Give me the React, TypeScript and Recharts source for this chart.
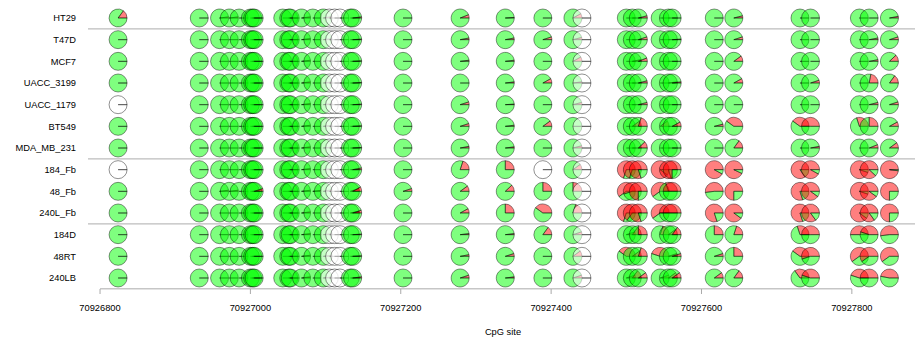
import React from 'react';
import { ScatterChart, Scatter, XAxis, YAxis, ReferenceLine } from 'recharts';

const samples = ['HT29','T47D','MCF7','UACC_3199','UACC_1179','BT549','MDA_MB_231','184_Fb','48_Fb','240L_Fb','184D','48RT','240LB'];

const sites = [
  70926824,
  70926932,70926959,70926972,70926985,70927000,70927003,70927005,
  70927043,70927051,70927053,70927068,70927083,70927097,70927105,70927112,70927119,70927133,70927136,
  70927203,70927279,70927339,70927389,70927429,70927441,
  70927500,70927508,70927516,70927545,70927556,70927561,
  70927617,70927643,
  70927731,70927745,
  70927810,70927823,70927850,
];

const xTicks = [70926800,70927000,70927200,70927400,70927600,70927800];
const separators = [0.5, 6.5, 9.5];

// methylated fraction per CpG site (null = no coverage)
const HT29 = [0.15, 0,0.02,0.02,0,0,0,0, 0,0,0,0.02,0,0.03,null,null,null,0,0.02, 0,0.06,0.01,0,0.08,null, 0,0,0.04,0,0,0, 0,0.04, 0,0, 0,0,0.03];
const T47D = [0, 0,0,0,0,0,0,0, 0,0,0,0.02,0,0.02,null,null,null,0,0.01, 0,0.03,0.03,0.05,0.04,null, 0,0,0.05,0,0,0.01, 0,0.05, 0,0, 0,0.03,0.05];
const MCF7 = [0, 0,0,0,0,0,0,0, 0,0,0,0.02,0,0.02,null,null,null,0,0.01, 0,0.02,0.02,0,0.08,null, 0,0.03,0.06,0,0,0, 0,0.1, 0,0, 0,0.03,0.12];
const UACC_3199 = [0, 0,0,0,0,0,0,0, 0,0,0,0.02,0,0.02,null,null,null,0,0.01, 0,0,0.02,0.08,0.02,null, 0,0,0.04,0,0.02,0.02, 0,0.08, 0,0.05, 0,0.22,0.15];
const UACC_1179 = [null, 0,0,0,0,0,0,0, 0,0,0,0.02,0,0.02,null,null,null,0,0.01, 0,0.05,0.01,0,0.04,null, 0,0,0.04,0,0,0, 0,0, 0,0, 0,0.04,0.05];
const BT549 = [0, 0,0,0,0,0,0,0, 0,0,0,0.02,0,0.02,null,null,null,0,0.01, 0,0.05,0.02,0.1,0,null, 0,0.1,0.2,0.1,0,0.08, 0.04,0.4, 0.4,0.5, 0.3,0.25,0.08];
const MDA_MB_231 = [0, 0,0,0,0,0,0,0, 0,0,0,0.02,0,0.02,null,null,null,0,0.01, 0,0.03,0.02,0,0.04,null, 0,0,0.12,0,0,0, 0,0.15, 0,0.03, 0,0.06,0.1];
const Fb184 = [null, 0,0,0,0,0,0,0, 0,0,0,0.02,0,0.02,null,null,null,0,0.03, 0,0.2,0.25,null,0.1,null, 0.7,0.7,0.8,0.9,0.8,0.75, 0.92,0.93, 0.85,0.92, 0.95,0.88,0.98];
const Fb48 = [0, 0,0.02,0.02,0,0,0,0.05, 0,0,0,0.02,0.02,0.03,null,null,null,0.05,0.08, 0.05,0.1,0.12,0.25,0.25,null, 0.6,0.55,0.75,0.6,0.3,0.5, 0.52,0.75, 0.8,0.9, 0.95,0.9,0.75];
const Fb240L = [0, 0,0,0,0,0,0,0, 0,0,0,0.02,0,0.02,null,null,null,0.03,0.05, 0,0.08,0.25,0.4,0.2,null, 0.7,0.65,0.8,0.6,0.5,0.5, 0.8,0.9, 0.8,0.85, 0.9,0.85,0.75];
const D184 = [0, 0,0,0,0,0,0,0, 0,0,0,0.02,0,0.02,null,null,null,0,0.01, 0,0.02,0.02,0.15,0.05,null, 0.05,0.15,0.25,0.2,0.1,0.15, 0.25,0.2, 0.3,0.5, 0.5,0.45,0.52];
const RT48 = [0, 0,0,0,0,0,0,0, 0,0,0,0.02,0,0.02,null,null,null,0,0.01, 0,0.03,0.05,0,0.1,null, 0.4,0.1,0.2,0.45,0.05,0.05, 0.05,0.25, 0.4,0.55, 0.6,0.6,0.6];
const LB240 = [0, 0,0,0,0,0,0,0, 0,0,0,0.02,0,0.02,null,null,null,0,0.02, 0,0.05,0.02,0,0.05,null, 0.05,0.15,0.1,0.05,0.1,0.1, 0.1,0.15, 0.35,0.45, 0.45,0.5,0.47];

const rows = [HT29,T47D,MCF7,UACC_3199,UACC_1179,BT549,MDA_MB_231,Fb184,Fb48,Fb240L,D184,RT48,LB240];

const data: { x: number; y: number; m: number | null }[] = [];
rows.forEach((vals, ri) => {
  vals.forEach((m, si) => data.push({ x: sites[si], y: ri, m }));
});

const FONT = '"Liberation Sans", Arial, sans-serif';
const R = 9;
const STROKE = 'rgba(0,0,0,0.62)';
const SW = 0.7;

const pt = (cx: number, cy: number, a: number) => [cx + R * Math.cos(a), cy - R * Math.sin(a)];

const slicePath = (cx: number, cy: number, a0: number, a1: number) => {
  const [x0, y0] = pt(cx, cy, a0);
  const [x1, y1] = pt(cx, cy, a1);
  const large = a1 - a0 > Math.PI ? 1 : 0;
  return `M${cx},${cy}L${x0},${y0}A${R},${R} 0 ${large} 0 ${x1},${y1}Z`;
};

const fullPath = (cx: number, cy: number) =>
  `M${cx},${cy}L${cx + R},${cy}A${R},${R} 0 1 0 ${cx - R},${cy}A${R},${R} 0 1 0 ${cx + R},${cy}Z`;

const PieShape = (props: any) => {
  const { cx, cy, payload } = props;
  if (cx == null || cy == null) return null;
  const m = payload.m;
  if (m === null || m === undefined) {
    return <path d={fullPath(cx, cy)} fill="#ffffff" fillOpacity={0.55} stroke={STROKE} strokeWidth={SW} />;
  }
  if (m <= 0) {
    return <path d={fullPath(cx, cy)} fill="#00ff00" fillOpacity={0.5} stroke={STROKE} strokeWidth={SW} />;
  }
  if (m >= 1) {
    return <path d={fullPath(cx, cy)} fill="#ff0000" fillOpacity={0.5} stroke={STROKE} strokeWidth={SW} />;
  }
  const a = m * 2 * Math.PI;
  return (
    <g>
      <path d={slicePath(cx, cy, 0, a)} fill="#ff0000" fillOpacity={0.5} stroke={STROKE} strokeWidth={SW} />
      <path d={slicePath(cx, cy, a, 2 * Math.PI)} fill="#00ff00" fillOpacity={0.5} stroke={STROKE} strokeWidth={SW} />
    </g>
  );
};

const XTick = (p: any) => (
  <g>
    <line x1={p.x} x2={p.x} y1={289} y2={294} stroke="#aaaaaa" strokeWidth={1} />
    <text x={p.x} y={310.5} textAnchor="middle" fontSize={9.3} fontFamily={FONT} fill="#000">{p.payload.value}</text>
  </g>
);

const YTick = (p: any) => (
  <text x={76} y={p.y + 3.3} textAnchor="end" fontSize={9.3} fontFamily={FONT} fill="#000">
    {samples[p.payload.value]}
  </text>
);

export default function App() {
  return (
    <div style={{ position: 'absolute', left: 0, top: 0, width: 915, height: 337, background: '#fff' }}>
      <ScatterChart width={915} height={337} margin={{ top: 7.17, right: 3, left: 0, bottom: 0 }}>
        <XAxis
          type="number"
          dataKey="x"
          domain={[70926780, 70927880]}
          ticks={xTicks}
          axisLine={false}
          tickLine={false}
          tick={<XTick />}
          height={48.17}
          interval={0}
          label={(lp: any) => (
            <text x={503} y={334.5} textAnchor="middle" fontSize={9.3} fontFamily={FONT} fill="#000">CpG site</text>
          )}
        />
        <YAxis
          type="number"
          dataKey="y"
          domain={[-0.5, 12.5]}
          reversed
          ticks={[0,1,2,3,4,5,6,7,8,9,10,11,12]}
          interval={0}
          axisLine={false}
          tickLine={false}
          width={85}
          tick={<YTick />}
        />
        {separators.map((s) => (
          <ReferenceLine
            key={s}
            ifOverflow="visible"
            segment={[{ x: 70926784, y: s }, { x: 70927884, y: s }]}
            stroke="#bdbdbd"
            strokeWidth={1.2}
          />
        ))}
        <ReferenceLine
          ifOverflow="visible"
          segment={[{ x: 70926800, y: 12.5 }, { x: 70927800, y: 12.5 }]}
          stroke="#aaaaaa"
          strokeWidth={1}
        />
        <Scatter data={data} shape={PieShape} isAnimationActive={false} />
      </ScatterChart>
    </div>
  );
}
